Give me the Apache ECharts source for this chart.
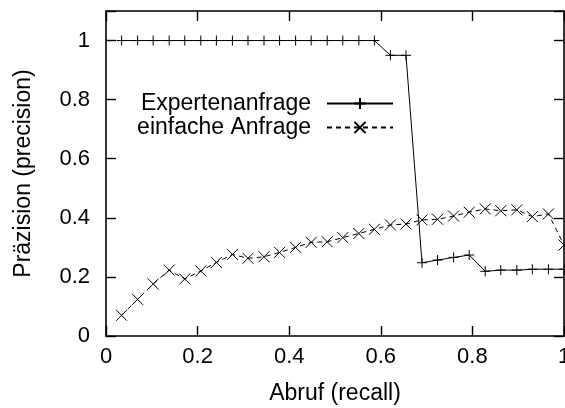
<!DOCTYPE html>
<html>
<head>
<meta charset="utf-8">
<script src="https://cdn.jsdelivr.net/npm/echarts@6/dist/echarts.min.js"></script>
<style>
  html, body { margin: 0; padding: 0; background: #fff; }
  #chart { width: 565px; height: 408px; }
</style>
</head>
<body>
<div id="chart"></div>
<script>
// Recall of each retrieved relevant document (x axis)
const recall = [
  0.034, 0.069, 0.103, 0.138, 0.172, 0.207, 0.241, 0.276, 0.310, 0.345,
  0.379, 0.414, 0.448, 0.483, 0.517, 0.552, 0.586, 0.621, 0.655, 0.690,
  0.724, 0.759, 0.793, 0.828, 0.862, 0.897, 0.931, 0.966, 1.000
];

// Precision of the expert query at each recall level
const expertPrecision = [
  1.0, 1.0, 1.0, 1.0, 1.0, 1.0, 1.0, 1.0, 1.0, 1.0,
  1.0, 1.0, 1.0, 1.0, 1.0, 1.0, 1.0, 0.950, 0.950, 0.248,
  0.257, 0.266, 0.274, 0.219, 0.223, 0.223, 0.226, 0.226, 0.226
];

// Precision of the simple query at each recall level
const simplePrecision = [
  0.070, 0.124, 0.176, 0.223, 0.193, 0.220, 0.249, 0.276, 0.263, 0.268,
  0.283, 0.300, 0.317, 0.319, 0.333, 0.347, 0.361, 0.376, 0.379, 0.393,
  0.395, 0.406, 0.419, 0.430, 0.424, 0.427, 0.404, 0.413, 0.308
];

const seriesNames = ['Expertenanfrage', 'einfache Anfrage'];
const xTicks = { min: 0, max: 1, interval: 0.2 };
const yTicks = { min: 0, max: 1.1, interval: 0.2 };

const FONT = "'Liberation Sans', Arial, Helvetica, sans-serif";
const plusPath = 'path://M0,5 L10,5 M5,0 L5,10';
const crossPath = 'path://M0,0 L10,10 M0,10 L10,0';

const pairs = (xs, ys) => xs.map((x, i) => [x, ys[i]]);

const frameLine = { show: true, onZero: false, lineStyle: { color: '#000', width: 1.6 } };
const frameTick = { show: true, inside: true, length: 10, lineStyle: { color: '#000', width: 1.4 } };
const labelStyle = { color: '#000', fontSize: 22, fontFamily: FONT };
const nameStyle = { color: '#000', fontSize: 23, fontFamily: FONT };

const chart = echarts.init(document.getElementById('chart'), null, { renderer: 'canvas' });

chart.setOption({
  backgroundColor: '#fff',
  animation: false,
  grid: { left: 106, right: 1, top: 11, bottom: 72, containLabel: false, outerBoundsMode: 'none' },
  legend: {
    orient: 'vertical',
    right: 166,
    top: 87,
    align: 'right',
    itemWidth: 66,
    itemHeight: 14,
    itemGap: 1,
    textStyle: { color: '#000', fontSize: 23, fontFamily: FONT, lineHeight: 23, padding: [0, 11, 0, 0] },
    data: seriesNames
  },
  xAxis: [
    {
      type: 'value', position: 'bottom',
      min: xTicks.min, max: xTicks.max, interval: xTicks.interval,
      name: 'Abruf (recall)', nameLocation: 'middle', nameGap: 46,
      nameTextStyle: nameStyle,
      axisLine: frameLine, axisTick: frameTick,
      axisLabel: Object.assign({ margin: 10 }, labelStyle),
      splitLine: { show: false }
    },
    {
      type: 'value', position: 'top',
      min: xTicks.min, max: xTicks.max, interval: xTicks.interval,
      axisLine: frameLine, axisTick: frameTick,
      axisLabel: { show: false }, splitLine: { show: false }
    }
  ],
  yAxis: [
    {
      type: 'value', position: 'left',
      min: yTicks.min, max: yTicks.max, interval: yTicks.interval,
      name: 'Präzision (precision)', nameLocation: 'middle', nameGap: 71,
      nameTextStyle: nameStyle,
      axisLine: frameLine, axisTick: frameTick,
      axisLabel: Object.assign({
        margin: 16,
        formatter: v => (v > 1.05 ? '' : String(Math.round(v * 10) / 10))
      }, labelStyle),
      splitLine: { show: false }
    },
    {
      type: 'value', position: 'right',
      min: yTicks.min, max: yTicks.max, interval: yTicks.interval,
      axisLine: frameLine, axisTick: frameTick,
      axisLabel: { show: false }, splitLine: { show: false }
    }
  ],
  series: [
    {
      name: seriesNames[0],
      type: 'line',
      xAxisIndex: 0, yAxisIndex: 0,
      data: pairs(recall, expertPrecision),
      symbol: plusPath,
      symbolSize: 10,
      showAllSymbol: true,
      lineStyle: { color: '#000', width: 1 },
      itemStyle: { color: '#000', borderColor: '#000', borderWidth: 1 }
    },
    {
      name: seriesNames[1],
      type: 'line',
      xAxisIndex: 0, yAxisIndex: 0,
      data: pairs(recall, simplePrecision),
      symbol: crossPath,
      symbolSize: 11,
      showAllSymbol: true,
      lineStyle: { color: '#000', width: 1, type: [5, 4] },
      itemStyle: { color: '#000', borderColor: '#000', borderWidth: 1 }
    }
  ]
});
</script>
</body>
</html>
